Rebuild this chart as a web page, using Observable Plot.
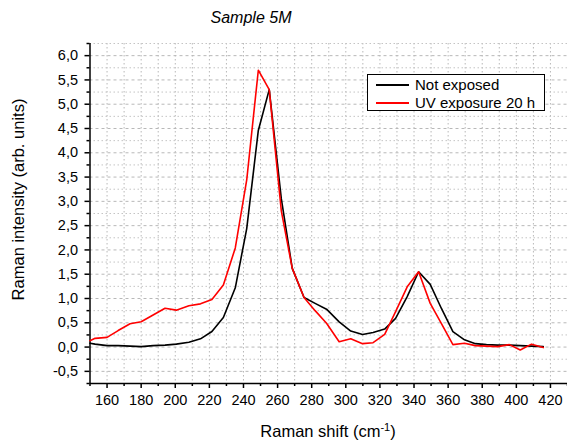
<!DOCTYPE html>
<html>
<head>
<meta charset="utf-8">
<script src="https://cdn.jsdelivr.net/npm/d3@7"></script>
<script src="https://cdn.jsdelivr.net/npm/@observablehq/plot@0.6"></script>
<style>
  html, body { margin: 0; padding: 0; background: #fff; }
  #wrap { position: relative; width: 567px; height: 440px; font-family: "Liberation Sans", Arial, sans-serif; color: #000; }
  #title { position: absolute; left: 0; top: 0; width: 502px; height: 30px; line-height: 36px; text-align: center; font-style: italic; font-size: 16px; }
  #chart { position: absolute; left: 0; top: 30px; }
  #xlabel { position: absolute; left: 89px; width: 478px; top: 421px; text-align: center; font-size: 16.5px; line-height: 20px; }
  #xlabel sup { font-size: 11px; line-height: 0; vertical-align: 6px; }
  #legend { position: absolute; left: 367px; top: 74px; width: 176px; height: 35px; border: 1.5px solid #000; background: #fff; font-size: 15px; }
  .row { position: absolute; left: 8px; height: 18px; line-height: 18px; white-space: nowrap; }
  .sw { display: inline-block; width: 33px; height: 0; border-top: 2px solid; vertical-align: middle; margin-right: 6px; position: relative; top: -1px; }
</style>
</head>
<body>
<div id="wrap">
  <div id="title">Sample 5M</div>
  <div id="chart"></div>
  <div id="xlabel">Raman shift (cm<sup>-1</sup>)</div>
  <div id="legend"></div>
</div>
<script>
// Raman shift (cm-1) sample positions
const shifts = [150, 153, 160, 166.5, 173.5, 180, 187, 194, 200.6, 208, 214.8, 221.5, 228.2, 235.2, 241.9, 248.7, 255.1, 262.2, 268.6, 275.5, 282, 288.7, 296.1, 302.9, 309.8, 316, 322.8, 329.2, 336, 342.7, 349.5, 356, 362.8, 369.6, 376, 382.5, 389, 395.9, 402.3, 408.9, 415.8];
// Not exposed
const notExposed = [0.08, 0.06, 0.03, 0.03, 0.02, 0.01, 0.03, 0.04, 0.06, 0.10, 0.17, 0.32, 0.61, 1.22, 2.44, 4.46, 5.30, 3.05, 1.62, 1.02, 0.90, 0.78, 0.52, 0.33, 0.26, 0.30, 0.37, 0.59, 1.04, 1.55, 1.29, 0.80, 0.32, 0.15, 0.07, 0.05, 0.04, 0.04, 0.03, 0.02, 0.01];
// UV exposure 20 h
const uvExposed = [0.13, 0.18, 0.20, 0.34, 0.48, 0.52, 0.66, 0.80, 0.76, 0.85, 0.89, 0.98, 1.28, 2.04, 3.44, 5.70, 5.30, 2.80, 1.62, 1.02, 0.75, 0.49, 0.11, 0.17, 0.07, 0.09, 0.26, 0.73, 1.24, 1.55, 0.90, 0.49, 0.05, 0.08, 0.03, 0.02, 0.01, 0.05, -0.06, 0.06, -0.01];

const seriesNames = ["Not exposed", "UV exposure 20 h"];
const seriesColors = ["#000000", "#ff0000"];

const xMajorTicks = [160, 180, 200, 220, 240, 260, 280, 300, 320, 340, 360, 380, 400, 420];
const xMinorTicks = [150, 170, 190, 210, 230, 250, 270, 290, 310, 330, 350, 370, 390, 410, 430];
const xGridLines = [160, 170, 180, 190, 200, 210, 220, 230, 240, 250, 260, 270, 280, 290, 300, 310, 320, 330, 340, 350, 360, 370, 380, 390, 400, 410, 420, 430];
const yMajorTicks = [-0.5, 0, 0.5, 1, 1.5, 2, 2.5, 3, 3.5, 4, 4.5, 5, 5.5, 6];
const yMinorTicks = [-0.75, -0.25, 0.25, 0.75, 1.25, 1.75, 2.25, 2.75, 3.25, 3.75, 4.25, 4.75, 5.25, 5.75, 6.25];

const data = [];
shifts.forEach((x, i) => data.push({x, y: notExposed[i], s: seriesNames[0]}));
shifts.forEach((x, i) => data.push({x, y: uvExposed[i], s: seriesNames[1]}));

const fmt = v => d3.format(".1f")(v).replace("−", "-").replace(".", ",");

const plot = Plot.plot({
  width: 567,
  height: 410,
  marginLeft: 89.5,
  marginRight: 0,
  marginTop: 13,
  marginBottom: 57,
  style: {fontFamily: "'Liberation Sans', Arial, sans-serif", fontSize: "14px", background: "transparent", color: "#000", overflow: "visible"},
  x: {domain: [150, 430]},
  y: {domain: [-0.75, 6.25]},
  color: {domain: seriesNames, range: seriesColors},
  marks: [
    Plot.gridX(xGridLines, {stroke: "#b8b8b8", strokeOpacity: 1, strokeDasharray: "1.5,2.5"}),
    Plot.gridY(yMajorTicks, {stroke: "#b8b8b8", strokeOpacity: 1, strokeDasharray: "3,3"}),
    Plot.gridY(yMinorTicks.filter(v => v > -0.75), {stroke: "#c4c4c4", strokeOpacity: 1, strokeDasharray: "1.5,2.5"}),
    Plot.axisX(xMajorTicks, {tickSize: 5, tickPadding: 6, tickFormat: d => String(d), strokeWidth: 1.5, fontSize: 14.5, label: null}),
    Plot.axisX(xMinorTicks, {tickSize: 3, tickFormat: () => "", strokeWidth: 1.5, label: null}),
    Plot.axisY(yMajorTicks, {tickSize: 5, tickPadding: 7, tickFormat: fmt, strokeWidth: 1.5, fontSize: 14.5, label: null}),
    Plot.axisY(yMinorTicks, {tickSize: 3, tickFormat: () => "", strokeWidth: 1.5, label: null}),
    Plot.ruleX([150], {stroke: "#000", strokeWidth: 1.5}),
    Plot.ruleY([-0.75], {stroke: "#000", strokeWidth: 1.5}),
    Plot.lineY(data, {x: "x", y: "y", z: "s", stroke: "s", strokeWidth: 1.6, curve: "linear"}),
    Plot.text(["Raman intensity (arb. units)"], {frameAnchor: "left", dx: -71, dy: -14, rotate: -90, fontSize: 16.5, lineAnchor: "middle", textAnchor: "middle", text: d => d})
  ]
});
document.getElementById("chart").appendChild(plot);

const legend = document.getElementById("legend");
seriesNames.forEach((name, i) => {
  const row = document.createElement("div");
  row.className = "row";
  row.style.top = (i === 0 ? 1 : 19) + "px";
  const sw = document.createElement("span");
  sw.className = "sw";
  sw.style.borderColor = seriesColors[i];
  row.appendChild(sw);
  row.appendChild(document.createTextNode(name));
  legend.appendChild(row);
});
</script>
</body>
</html>
